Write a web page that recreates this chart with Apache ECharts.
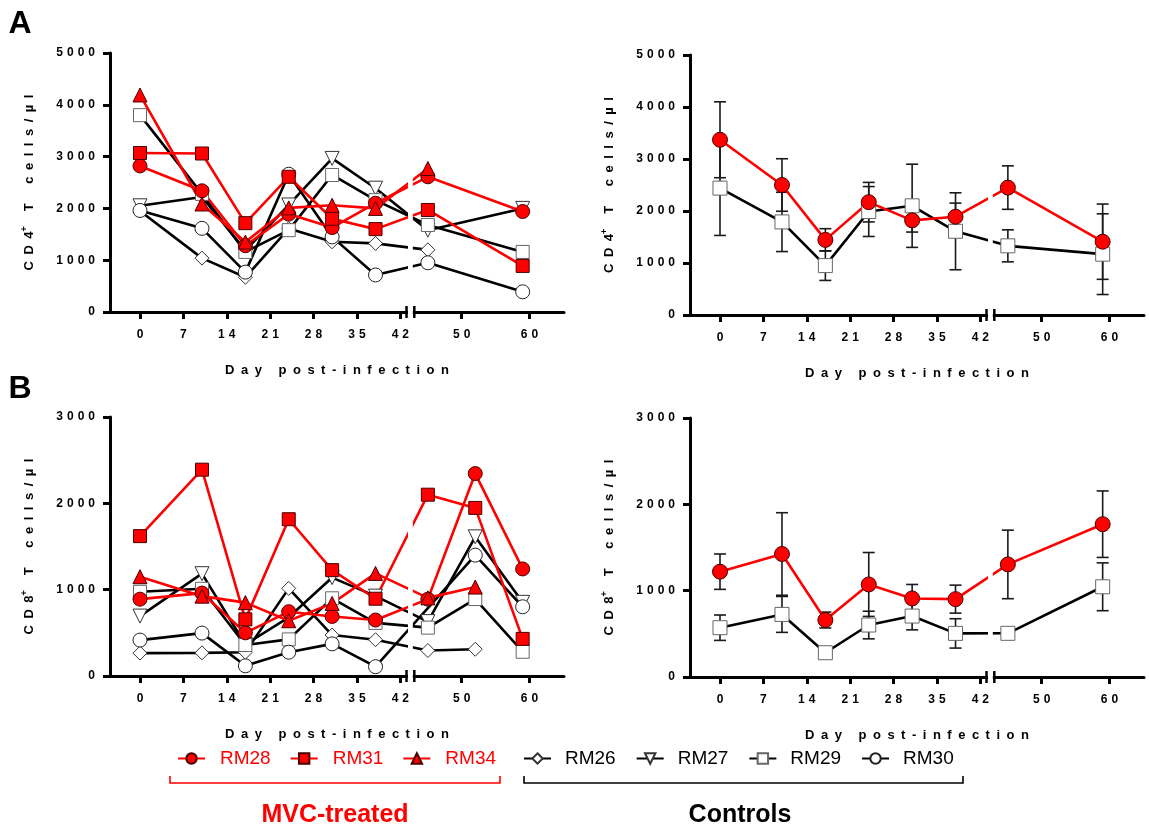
<!DOCTYPE html>
<html>
<head>
<meta charset="utf-8">
<script src="https://cdn.jsdelivr.net/npm/echarts@6/dist/echarts.min.js"></script>
<style>
  html, body { margin: 0; padding: 0; background: #fff; }
  #chart { width: 1149px; height: 839px; }
</style>
</head>
<body>
<div id="chart"></div>
<script>
// sampling days (the right-hand B panel plots its last mean at the day-59 slot)
var daysA = [0, 10, 17, 24, 31, 38, 45, 59];
var daysB = [0, 10, 17, 24, 31, 38, 45, 52, 59];
var daysMean = [0, 10, 17, 24, 31, 38, 45, 59];
var xTicks = [0, 7, 14, 21, 28, 35, 42, 50, 60];

// CD4+ T cells/µl, per animal
var cd4RM28 = [2820, 2340, 1280, 1890, 1630, 2100, 2610, 1940];
var cd4RM31 = [3070, 3060, 1715, 2610, 1800, 1600, 1970, 890];
var cd4RM34 = [4190, 2085, 1350, 2010, 2060, 2000, 2770, null];
var cd4RM26 = [1950, 1040, 670, 1610, 1355, 1325, 1200, null];
var cd4RM27 = [2050, 2220, 1190, 2066, 2965, 2390, 1580, 2000];
var cd4RM29 = [3800, 2280, 1160, 1580, 2645, 2160, 1680, 1160];
var cd4RM30 = [1960, 1615, 770, 2660, 1450, 715, 950, 390];

// CD4+ group means and error
var cd4MvcMean = [3370, 2500, 1445, 2170, 1820, 1890, 2450, 1410];
var cd4MvcErr = [730, 505, 215, 380, 225, 262, 418, 724];
var cd4CtlMean = [2440, 1790, 950, 1990, 2100, 1610, 1330, 1170];
var cd4CtlErr = [910, 570, 285, 480, 800, 740, 308, 776];

// CD8+ T cells/µl, per animal
var cd8RM28 = [890, 960, 500, 745, 690, 648, 890, 2345, 1240];
var cd8RM31 = [1620, 2390, 656, 1816, 1226, 895, 2100, 1947, 430];
var cd8RM34 = [1150, 925, 850, 640, 841, 1188, 905, 1030, null];
var cd8RM26 = [265, 268, 275, 1015, 474, 420, 295, 310, null];
var cd8RM27 = [694, 1185, 365, 680, 1140, 925, 630, 1612, 853];
var cd8RM29 = [975, 1010, 359, 424, 900, 615, 560, 891, 281];
var cd8RM30 = [416, 497, 118, 276, 372, 108, null, 1400, 802];

// CD8+ group means and error
var cd8MvcMean = [1220, 1425, 660, 1072, 910, 902, 1304, 1770];
var cd8MvcErr = [205, 478, 92, 370, 162, 162, 397, 385];
var cd8CtlMean = [571, 725, 281, 602, 706, 505, 506, 1045];
var cd8CtlErr = [147, 208, null, 160, 160, 170, null, 277];

var FONT = '"Liberation Sans", Arial, sans-serif';
var RED = '#ff0000';
var DOWN_TRI = 'path://M0,0L12,0L6,11Z';

// broken day axis: after day 43 a small gap, then a slightly wider scale
var BREAK_AT = 43, BREAK_GAP = 1.26, AFTER_SCALE = 1.0925;
var X_MIN = -4.84, X_MAX = 68.41;
function pos(d) {
  return d <= BREAK_AT ? d : BREAK_AT + BREAK_GAP + (d - BREAK_AT) * AFTER_SCALE;
}
function dayOf(p) {
  return p <= BREAK_AT ? p : BREAK_AT + (p - BREAK_AT - BREAK_GAP) / AFTER_SCALE;
}
function spaced(s, sep) {
  return String(s).split('').join(sep);
}
function pts(days, vals) {
  var out = [];
  for (var i = 0; i < days.length; i++) {
    if (vals[i] != null) out.push([pos(days[i]), vals[i]]);
  }
  return out;
}
function errPts(days, mean, err) {
  var out = [];
  for (var i = 0; i < days.length; i++) {
    if (err[i] != null) out.push([pos(days[i]), mean[i] - err[i], mean[i] + err[i]]);
  }
  return out;
}

var tickPos = xTicks.map(pos);

var grids = [
  { left: 110, top: 53, width: 454, height: 259 },
  { left: 690, top: 55, width: 454, height: 260 },
  { left: 110, top: 417, width: 454, height: 259 },
  { left: 690, top: 418, width: 454, height: 259 }
];

function xAxisOpt(gi) {
  return {
    type: 'value', gridIndex: gi, min: X_MIN, max: X_MAX,
    name: spaced('Day post-infection', '\u2002'),
    nameLocation: 'middle', nameGap: 52,
    nameTextStyle: { fontSize: 13, fontWeight: 'bold', color: '#000', fontFamily: FONT },
    axisLine: { show: true, onZero: false, lineStyle: { color: '#000', width: 3 } },
    axisTick: { show: true, customValues: tickPos, length: 7, lineStyle: { color: '#000', width: 3 } },
    axisLabel: {
      customValues: tickPos,
      formatter: function (v) { return spaced(Math.round(dayOf(v)), '\u2004'); },
      fontSize: 12, fontWeight: 'bold', color: '#000', margin: 17, fontFamily: FONT
    },
    splitLine: { show: false }
  };
}

function yAxisOpt(gi, max, cd) {
  var name = '{t|' + spaced('CD' + cd, '\u2002') + '}{s|+}{t|\u2002\u2002T\u2002\u2002\u2002' +
    spaced('cells/µl', '\u2002') + '}';
  return {
    type: 'value', gridIndex: gi, min: 0, max: max, interval: 1000,
    name: name, nameLocation: 'middle', nameRotate: 90, nameGap: 72,
    nameTextStyle: {
      fontSize: 13, fontWeight: 'bold', color: '#000', fontFamily: FONT,
      rich: {
        t: { fontSize: 13, fontWeight: 'bold', color: '#000', fontFamily: FONT },
        s: { fontSize: 9, fontWeight: 'bold', color: '#000', fontFamily: FONT, verticalAlign: 'top', padding: [0, 2, 9, 0] }
      }
    },
    axisLine: { show: true, onZero: false, lineStyle: { color: '#000', width: 3 } },
    axisTick: { show: true, length: 7, lineStyle: { color: '#000', width: 3 } },
    axisLabel: {
      formatter: function (v) { return spaced(v, '\u2004'); },
      fontSize: 12, fontWeight: 'bold', color: '#000', margin: 15, fontFamily: FONT
    },
    splitLine: { show: false }
  };
}

var animals = [
  { name: 'RM26', symbol: 'diamond', size: 14, fill: '#fff', border: '#333', line: '#000', cd4: cd4RM26, cd8: cd8RM26 },
  { name: 'RM27', symbol: DOWN_TRI, size: 14, fill: '#fff', border: '#333', line: '#000', cd4: cd4RM27, cd8: cd8RM27 },
  { name: 'RM29', symbol: 'rect', size: 13, fill: '#fff', border: '#666', line: '#000', cd4: cd4RM29, cd8: cd8RM29 },
  { name: 'RM30', symbol: 'circle', size: 14, fill: '#fff', border: '#222', line: '#000', cd4: cd4RM30, cd8: cd8RM30 },
  { name: 'RM28', symbol: 'circle', size: 14, fill: RED, border: '#4a0000', line: RED, cd4: cd4RM28, cd8: cd8RM28 },
  { name: 'RM31', symbol: 'rect', size: 13, fill: RED, border: '#4a0000', line: RED, cd4: cd4RM31, cd8: cd8RM31 },
  { name: 'RM34', symbol: 'triangle', size: 14, fill: RED, border: '#4a0000', line: RED, cd4: cd4RM34, cd8: cd8RM34 }
];

function lineSeries(name, gi, data, symbol, size, fill, border, lineColor) {
  return {
    type: 'line', name: name, xAxisIndex: gi, yAxisIndex: gi, data: data,
    symbol: symbol, symbolSize: size, showAllSymbol: true,
    lineStyle: { color: lineColor, width: 2.6 },
    itemStyle: { color: fill, borderColor: border, borderWidth: 1 },
    emphasis: { disabled: true }
  };
}

function renderBreak(params, api) {
  var cs = params.coordSys;
  var a = api.coord([BREAK_AT, 0]);
  var b = api.coord([BREAK_AT + BREAK_GAP, 0]);
  var mark = { stroke: '#000', lineWidth: 2.5 };
  return {
    type: 'group',
    children: [
      { type: 'rect', shape: { x: a[0] + 1.5, y: cs.y, width: b[0] - a[0] - 3, height: a[1] - cs.y + 3 }, style: { fill: '#fff' } },
      { type: 'line', shape: { x1: a[0], y1: a[1] - 6, x2: a[0], y2: a[1] + 6 }, style: mark },
      { type: 'line', shape: { x1: b[0], y1: a[1] - 6, x2: b[0], y2: a[1] + 6 }, style: mark }
    ]
  };
}

function renderErr(params, api) {
  var x = api.value(0);
  var lo = api.coord([x, api.value(1)]);
  var hi = api.coord([x, api.value(2)]);
  var w = 6;
  var st = { stroke: '#1a1a1a', lineWidth: 1.6 };
  return {
    type: 'group',
    children: [
      { type: 'line', shape: { x1: lo[0], y1: lo[1], x2: hi[0], y2: hi[1] }, style: st },
      { type: 'line', shape: { x1: lo[0] - w, y1: lo[1], x2: lo[0] + w, y2: lo[1] }, style: st },
      { type: 'line', shape: { x1: hi[0] - w, y1: hi[1], x2: hi[0] + w, y2: hi[1] }, style: st }
    ]
  };
}

var series = [];
// per-animal panels (grid 0 = CD4, grid 2 = CD8)
animals.forEach(function (a) {
  series.push(lineSeries(a.name, 0, pts(daysA, a.cd4), a.symbol, a.size, a.fill, a.border, a.line));
  series.push(lineSeries(a.name, 2, pts(daysB, a.cd8), a.symbol, a.size, a.fill, a.border, a.line));
});

// group-mean panels (grid 1 = CD4, grid 3 = CD8)
[[1, cd4CtlMean, cd4CtlErr, cd4MvcMean, cd4MvcErr], [3, cd8CtlMean, cd8CtlErr, cd8MvcMean, cd8MvcErr]].forEach(function (p) {
  var gi = p[0];
  series.push({
    type: 'custom', xAxisIndex: gi, yAxisIndex: gi, z: 1, silent: true,
    data: errPts(daysMean, p[1], p[2]).concat(errPts(daysMean, p[3], p[4])),
    encode: { x: 0, y: [1, 2] }, renderItem: renderErr
  });
  series.push(lineSeries('Controls mean', gi, pts(daysMean, p[1]), 'rect', 14, '#fff', '#666', '#000'));
  series.push(lineSeries('MVC mean', gi, pts(daysMean, p[3]), 'circle', 15, RED, '#4a0000', RED));
});

// axis break mark on every panel
[0, 1, 2, 3].forEach(function (gi) {
  series.push({
    type: 'custom', xAxisIndex: gi, yAxisIndex: gi, z: 10, silent: true, clip: false,
    data: [[BREAK_AT, 0]], encode: { x: 0, y: 1 }, renderItem: renderBreak
  });
});

var chart = echarts.init(document.getElementById('chart'));
chart.setOption({
  animation: false,
  backgroundColor: '#fff',
  grid: grids,
  xAxis: [xAxisOpt(0), xAxisOpt(1), xAxisOpt(2), xAxisOpt(3)],
  yAxis: [yAxisOpt(0, 5000, 4), yAxisOpt(1, 5000, 4), yAxisOpt(2, 3000, 8), yAxisOpt(3, 3000, 8)],
  legend: [
    {
      data: ['RM28', 'RM31', 'RM34'], left: 177, top: 749, padding: 0,
      itemWidth: 27, itemHeight: 13, itemGap: 19, selectedMode: false,
      textStyle: { color: RED, fontSize: 19, fontFamily: FONT, padding: [0, 0, 0, 10] }
    },
    {
      data: ['RM26', 'RM27', 'RM29', 'RM30'], left: 523, top: 749, padding: 0,
      itemWidth: 27, itemHeight: 13, itemGap: 20, selectedMode: false,
      textStyle: { color: '#000', fontSize: 19, fontFamily: FONT, padding: [0, 0, 0, 9] }
    }
  ],
  graphic: [
    { type: 'text', x: 20, y: 24, style: { text: 'A', font: 'bold 32px ' + FONT, fill: '#000', align: 'center', verticalAlign: 'middle' } },
    { type: 'text', x: 20, y: 389, style: { text: 'B', font: 'bold 32px ' + FONT, fill: '#000', align: 'center', verticalAlign: 'middle' } },
    { type: 'polyline', shape: { points: [[170, 776], [170, 783], [500, 783], [500, 776]] }, style: { stroke: RED, lineWidth: 1.6, fill: null } },
    { type: 'polyline', shape: { points: [[524, 776], [524, 783], [963, 783], [963, 776]] }, style: { stroke: '#000', lineWidth: 1.6, fill: null } },
    { type: 'text', x: 335, y: 815, style: { text: 'MVC-treated', font: 'bold 25px ' + FONT, fill: RED, align: 'center', verticalAlign: 'middle' } },
    { type: 'text', x: 740, y: 815, style: { text: 'Controls', font: 'bold 25px ' + FONT, fill: '#000', align: 'center', verticalAlign: 'middle' } }
  ],
  series: series
});
</script>
</body>
</html>
